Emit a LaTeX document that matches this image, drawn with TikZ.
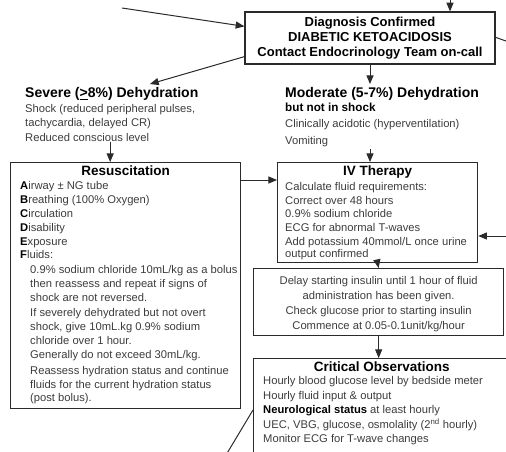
\documentclass[tikz,border=0pt]{standalone}
\usepackage{fontspec}
\setmainfont{Liberation Sans}
\usetikzlibrary{positioning, arrows}
\definecolor{inkgray}{HTML}{3C3C3C}
\definecolor{linegray}{HTML}{2A2A2A}
\newcommand\capletter[1]{\textcolor{black}{\textbf{#1}}}
\tikzstyle{box}=[rectangle, draw=linegray, line width=1.3pt, inner sep=0pt]
\tikzstyle{head}=[font=\bfseries\fontsize{13.5}{15}\selectfont, inner sep=0pt]
\tikzstyle{bighead}=[font=\bfseries\fontsize{14}{15}\selectfont, inner sep=0pt]
\tikzstyle{txt}=[font=\fontsize{11.2}{14.5}\selectfont, text=inkgray, align=left, inner sep=0pt]
\tikzstyle{link}=[draw=linegray, line width=1pt, -triangle 45]
\tikzstyle{wire}=[draw=linegray, line width=1pt]

\begin{document}
\begin{tikzpicture}[x=1pt, y=-1pt]

			\clip (0,0) rectangle (506,452);

			% Diagnosis box at the top
			\node[box, minimum width=250pt, minimum height=52pt, align=center,
			      font=\bfseries\fontsize{13}{15}\selectfont] (diag) at (370,38)
			      {Diagnosis Confirmed\\DIABETIC KETOACIDOSIS\\Contact Endocrinology Team on-call};

			% Severe branch
			\node[bighead, anchor=north west] (severe) at (25,87) {Severe (\underline{>}8\%) Dehydration};
			\node[txt, anchor=north west] (shock) at (25,104)
			      {Shock (reduced peripheral pulses,\\tachycardia, delayed CR)\\Reduced conscious level};

			% Moderate branch
			\node[bighead, anchor=north west] (moderate) at (285,87) {Moderate (5-7\%) Dehydration};
			\node[txt, anchor=north west, text=black, font=\bfseries\fontsize{11.7}{14}\selectfont] (noshock) at (285,103) {but not in shock};
			\node[txt, anchor=north west] (acid) at (285,119)
			      {Clinically acidotic (hyperventilation)\\[2.5pt]Vomiting};

			% Resuscitation
			\node[box, anchor=north west, minimum width=230pt, minimum height=246pt] (resus) at (10,162) {};
			\node[head, below=4pt of resus.north] (resustitle) {Resuscitation};
			\node[txt, font=\fontsize{11.2}{13.8}\selectfont, below right=19.5pt and 10pt of resus.north west] (resustext)
			      {\capletter{A}irway ± NG tube\\
			       \capletter{B}reathing (100\% Oxygen)\\
			       \capletter{C}irculation\\
			       \capletter{D}isability\\
			       \capletter{E}xposure\\
			       \capletter{F}luids:\\[1pt]
			       \hspace*{10pt}0.9\% sodium chloride 10mL/kg as a bolus\\
			       \hspace*{10pt}then reassess and repeat if signs of\\
			       \hspace*{10pt}shock are not reversed.\\[1.5pt]
			       \hspace*{10pt}If severely dehydrated but not overt\\
			       \hspace*{10pt}shock, give 10mL.kg 0.9\% sodium\\
			       \hspace*{10pt}chloride over 1 hour.\\[1pt]
			       \hspace*{10pt}Generally do not exceed 30mL/kg.\\[1.5pt]
			       \hspace*{10pt}Reassess hydration status and continue\\
			       \hspace*{10pt}fluids for the current hydration status\\
			       \hspace*{10pt}(post bolus).};

			% IV therapy
			\node[box, anchor=north west, minimum width=200pt, minimum height=100pt] (iv) at (277,162) {};
			\node[head, below=4pt of iv.north] (ivtitle) {IV Therapy};
			\node[txt, font=\fontsize{11.2}{13.8}\selectfont, below right=20pt and 8pt of iv.north west] (ivtext)
			      {Calculate fluid requirements:\\
			       Correct over 48 hours\\
			       0.9\% sodium chloride\\
			       ECG for abnormal T-waves\\
			       Add potassium 40mmol/L once urine\\[-1.5pt]
			       output confirmed};

			% Insulin
			\node[box, anchor=north west, minimum width=250pt, minimum height=67pt] (delay) at (253,268) {};
			\node[txt, align=center, below=8.5pt of delay.north] (delaytext)
			      {Delay starting insulin until 1 hour of fluid\\
			       administration has been given.\\[0.5pt]
			       Check glucose prior to starting insulin\\[0.5pt]
			       Commence at 0.05-0.1unit/kg/hour};

			% Critical observations
			\node[box, anchor=north west, minimum width=256pt, minimum height=110pt] (crit) at (253,358) {};
			\node[head, below=4pt of crit.north] (crittitle) {Critical Observations};
			\node[txt, below right=18.5pt and 10pt of crit.north west] (crittext)
			      {Hourly blood glucose level by bedside meter\\
			       Hourly fluid input \& output\\
			       \textcolor{black}{\textbf{Neurological status}} at least hourly\\
			       UEC, VBG, glucose, osmolality (2\textsuperscript{nd} hourly)\\
			       Monitor ECG for T-wave changes};

			% Loose ends leaving the picture
			\coordinate (fromleft) at (122,8);
			\coordinate (fromtop) at (450,-6);
			\coordinate (offright) at (520,46);
			\coordinate (ivin) at (520,236);
			\coordinate (offbottom) at (214,475);

			% Connectors
			\draw[link] (fromleft) -- ([yshift=-15pt]diag.north west);
			\draw[link] (fromtop) -- (fromtop |- diag.north);
			\draw[wire] ([yshift=-26pt]diag.north east) -- (offright);
			\draw[link] ([yshift=8pt]diag.south west) -- ([xshift=125pt, yshift=3pt]severe.north west);
			\draw[link] (diag.south) -- ([yshift=3pt]diag.south |- moderate.north);
			\draw[link] (shock.south) -- (shock.south |- resus.north);
			\draw[link] ([yshift=-2pt]diag.south |- acid.south) -- (diag.south |- iv.north);
			\draw[link] ([yshift=-18pt]resus.north east) -- ([yshift=-18pt]iv.north west);
			\draw[link] (ivin) -- (ivin -| iv.east);
			\draw[link] (iv.south) -- (delay.north);
			\draw[link] (delay.south) -- (delay.south |- crit.north);
			\draw[wire] ([yshift=-52pt]crit.north west) -- (offbottom);

\end{tikzpicture}
\end{document}
